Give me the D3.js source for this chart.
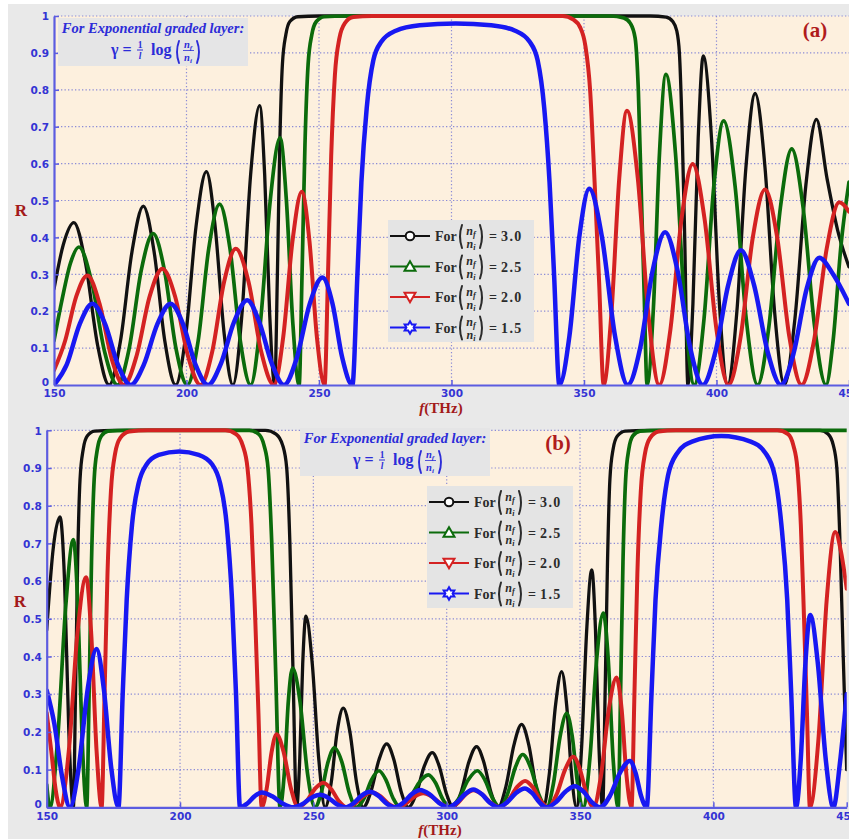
<!DOCTYPE html>
<html>
<head>
<meta charset="utf-8">
<script src="https://cdn.jsdelivr.net/npm/d3@7"></script>
<style>
  body { margin: 0; background: #ffffff; }
  svg { display: block; }
</style>
</head>
<body>
<svg id="chart" width="849" height="839"></svg>
<script>
// Reflectance R versus frequency f (THz) for four gradient ratios nf/ni.
const fTicks = [150, 200, 250, 300, 350, 400, 450];
const fTickLabels = ["150", "200", "250", "300", "350", "400", "450"];
const rTicks = [0, 0.1, 0.2, 0.3, 0.4, 0.5, 0.6, 0.7, 0.8, 0.9, 1];
const rTickLabels = ["0", "0.1", "0.2", "0.3", "0.4", "0.5", "0.6", "0.7", "0.8", "0.9", "1"];
const ratioLabels = ["3.0", "2.5", "2.0", "1.5"];

// Panel (a): [f, R]
const aBlack = [
  [150,0.26],[153.5,0.38],[157.5,0.44],[161.9,0.33],[166.4,0.11],[170.8,0],
  [175.1,0.12],[179.4,0.36],[183.7,0.485],[187.8,0.36],[191.8,0.12],[195.9,0],
  [199.8,0.14],[203.6,0.43],[207.5,0.578],[210.8,0.43],[214.2,0.14],[217.5,0],
  [220.9,0.19],[224.2,0.57],[227.6,0.757],[229.5,0.57],[231.4,0.19],[233.3,0],
  [234.3,0.3],[235.2,0.65],[236.2,0.87],[237.5,0.95],[239,0.985],[242,0.998],[250,1],[300,1],[375,1],
  [381,0.997],[383.5,0.985],[385,0.96],[386,0.9],[387,0.7],[388,0.4],[389.2,0],
  [391.1,0.22],[393.1,0.67],[395,0.892],[398.1,0.67],[401.1,0.22],[404.2,0],
  [407.7,0.2],[411.1,0.59],[414.6,0.79],[418.3,0.59],[421.9,0.2],[425.6,0],
  [429.6,0.18],[433.7,0.54],[437.7,0.72],[441.7,0.56],[445.7,0.42],[450,0.32]
];
const aGreen = [
  [150,0.12],[153,0.23],[156.2,0.33],[159.4,0.374],[164.2,0.28],[169.1,0.09],[173.9,0],
  [178.4,0.1],[182.9,0.31],[187.4,0.41],[191.7,0.31],[196,0.1],[200.3,0],
  [204.4,0.12],[208.4,0.37],[212.5,0.49],[216.4,0.37],[220.3,0.12],[224.2,0],
  [227.9,0.17],[231.6,0.5],[235.3,0.67],[237.7,0.5],[240.1,0.17],[242.5,0],
  [243.6,0.3],[244.7,0.65],[245.9,0.87],[247.3,0.95],[249,0.985],[252,0.998],[260,1],[310,1],[360,1],
  [365,0.995],[367.5,0.98],[369.3,0.94],[370.5,0.8],[371.7,0.5],[372.7,0.25],[373.8,0],
  [376.2,0.21],[378.5,0.63],[380.9,0.842],[384.5,0.63],[388,0.21],[391.6,0],
  [395.3,0.18],[399,0.54],[402.7,0.716],[407,0.54],[411.2,0.18],[415.5,0],
  [419.8,0.16],[424.1,0.48],[428.4,0.64],[432.7,0.48],[437,0.16],[441.3,0],
  [444,0.12],[447,0.38],[450,0.55]
];
const aRed = [
  [150,0.04],[154.2,0.12],[158.4,0.24],[162.6,0.297],[167.2,0.22],[171.8,0.07],[176.4,0],
  [181.2,0.08],[186.1,0.24],[190.9,0.315],[195.7,0.24],[200.5,0.08],[205.3,0],
  [209.7,0.09],[214.2,0.28],[218.6,0.369],[223.4,0.28],[228.2,0.09],[233,0],
  [236.5,0.13],[240,0.39],[243.5,0.524],[246.4,0.39],[249.2,0.13],[252.1,0],
  [253.4,0.3],[254.6,0.62],[256,0.84],[257.7,0.94],[259.7,0.98],[263,0.997],[270,1],[305,1],[342,1],
  [346,0.99],[348.5,0.97],[350.5,0.92],[352.3,0.8],[354,0.55],[355.7,0.28],[357.4,0],
  [360.3,0.19],[363.3,0.56],[366.2,0.743],[370.3,0.56],[374.3,0.19],[378.4,0],
  [382.6,0.15],[386.8,0.45],[391,0.599],[395.5,0.45],[400,0.15],[404.5,0],
  [409.1,0.13],[413.7,0.4],[418.3,0.53],[422.9,0.4],[427.5,0.13],[432.1,0],
  [436.8,0.12],[441.6,0.37],[446.3,0.495],[450,0.47]
];
const aBlue = [
  [150,0],[154.8,0.055],[159.7,0.165],[164.5,0.22],[169.3,0.165],[174.1,0.055],[178.9,0],
  [183.9,0.055],[189,0.165],[194,0.22],[198.7,0.165],[203.4,0.055],[208.1,0],
  [213,0.058],[217.9,0.17],[222.9,0.23],[227.5,0.17],[232.2,0.058],[236.8,0],
  [241.6,0.073],[246.5,0.22],[251.3,0.291],[255.1,0.22],[258.8,0.073],[262.6,0],
  [264.5,0.3],[266,0.55],[268,0.75],[270.5,0.88],[273.5,0.93],[279,0.96],[288,0.975],[301.6,0.98],
  [315,0.975],[324,0.96],[329.5,0.93],[332.5,0.88],[335,0.75],[337,0.55],[338.7,0.3],[340.7,0],
  [344.5,0.133],[348.2,0.4],[352,0.532],[356.8,0.4],[361.7,0.133],[366.5,0],
  [371.2,0.1],[375.9,0.31],[380.6,0.414],[385.3,0.31],[390.1,0.1],[394.8,0],
  [399.6,0.09],[404.4,0.27],[409.2,0.365],[414.2,0.27],[419.3,0.09],[424.3,0],
  [429.1,0.086],[434,0.26],[438.8,0.345],[444,0.3],[450,0.22]
];

// Panel (b): [f, R]
const bBlack = [
  [150,0.47],[152.5,0.69],[155,0.77],[156.7,0.6],[158.3,0.2],[160,0],
  [160.8,0.3],[161.6,0.65],[162.5,0.87],[163.7,0.95],[165.2,0.985],[168,0.998],[175,1],[205,1],[232,1],
  [236,0.99],[238.5,0.96],[240,0.9],[241.2,0.7],[242.4,0.35],[243.7,0],
  [244.9,0.13],[246,0.38],[247.2,0.507],[249.6,0.38],[252,0.13],[254.4,0],
  [256.7,0.066],[258.9,0.2],[261.2,0.263],[263.7,0.2],[266.2,0.066],[268.7,0],
  [271.6,0.042],[274.6,0.126],[277.5,0.168],[280.2,0.126],[282.9,0.042],[285.6,0],
  [288.6,0.036],[291.6,0.109],[294.6,0.145],[297.2,0.109],[299.9,0.036],[302.5,0],
  [305.4,0.04],[308.3,0.12],[311.2,0.161],[313.9,0.12],[316.6,0.04],[319.3,0],
  [322.2,0.055],[325.2,0.165],[328.1,0.22],[330.8,0.165],[333.5,0.055],[336.2,0],
  [338.5,0.09],[340.8,0.27],[343.1,0.36],[345,0.27],[346.8,0.09],[348.7,0],
  [350.6,0.16],[352.5,0.47],[354.4,0.63],[355.8,0.47],[357.1,0.16],[358.5,0],
  [359.4,0.3],[360.3,0.65],[361.2,0.87],[362.4,0.95],[364,0.985],[367,0.998],[375,1],[410,1],[440,1],
  [443,0.99],[445,0.96],[446.3,0.9],[447.5,0.7],[448.7,0.4],[450,0.1]
];
const bGreen = [
  [150,0.06],[151.2,0],[154.1,0.18],[157.1,0.53],[160,0.71],[161.7,0.53],[163.3,0.18],[165,0],
  [165.9,0.3],[166.8,0.65],[167.8,0.87],[169,0.95],[170.5,0.985],[173,0.998],[180,1],[205,1],[226,1],
  [229.5,0.99],[231.5,0.96],[233,0.9],[234.4,0.7],[235.9,0.35],[237.5,0],
  [239.1,0.09],[240.6,0.28],[242.2,0.369],[245,0.28],[247.8,0.09],[250.6,0],
  [253,0.04],[255.5,0.12],[257.9,0.158],[260.7,0.12],[263.4,0.04],[266.2,0],
  [269,0.024],[271.8,0.073],[274.6,0.097],[277.2,0.073],[279.9,0.024],[282.5,0],
  [286,0.022],[289.6,0.065],[293.1,0.086],[295.8,0.065],[298.5,0.022],[301.2,0],
  [304.6,0.024],[308.1,0.073],[311.5,0.097],[314.3,0.073],[317.2,0.024],[320,0],
  [322.8,0.035],[325.7,0.105],[328.5,0.14],[331.5,0.105],[334.5,0.035],[337.5,0],
  [340,0.062],[342.5,0.187],[345,0.249],[347.1,0.187],[349.1,0.062],[351.2,0],
  [353.7,0.13],[356.2,0.39],[358.7,0.515],[360.6,0.39],[362.4,0.13],[364.3,0],
  [365.2,0.3],[366.1,0.65],[367.1,0.87],[368.3,0.95],[369.8,0.985],[372.5,0.998],[380,1],[415,1],[450,1]
];
const bRed = [
  [150,0.25],[151.7,0.15],[153.3,0.05],[155,0],
  [158.3,0.15],[161.5,0.46],[164.8,0.61],[166.7,0.46],[168.7,0.15],[170.6,0],
  [171.7,0.3],[172.8,0.62],[174.1,0.84],[175.7,0.94],[177.6,0.98],[181,0.997],[188,1],[200,1],[217,1],
  [221,0.99],[223.5,0.96],[225.3,0.9],[226.8,0.75],[228.2,0.5],[229.4,0.25],[230.6,0],
  [232.5,0.05],[234.3,0.145],[236.2,0.194],[238.9,0.145],[241.6,0.05],[244.3,0],
  [247.4,0.016],[250.6,0.049],[253.7,0.065],[256.6,0.049],[259.6,0.016],[262.5,0],
  [265.6,0.01],[268.8,0.03],[271.9,0.04],[275,0.03],[278.1,0.01],[281.2,0],
  [284.5,0.009],[287.9,0.028],[291.2,0.037],[294.5,0.028],[297.9,0.009],[301.2,0],
  [304.1,0.011],[307.1,0.034],[310,0.045],[313.3,0.034],[316.7,0.011],[320,0],
  [323.1,0.018],[326.3,0.053],[329.4,0.07],[332.3,0.053],[335.2,0.018],[338.1,0],
  [341.2,0.034],[344.4,0.1],[347.5,0.134],[350,0.1],[352.5,0.034],[355,0],
  [357.9,0.086],[360.8,0.26],[363.7,0.344],[365.6,0.26],[367.4,0.086],[369.3,0],
  [370.4,0.3],[371.5,0.62],[372.8,0.84],[374.4,0.94],[376.3,0.98],[379.5,0.997],[386,1],[405,1],[424,1],
  [428,0.99],[430,0.96],[431.5,0.9],[432.8,0.75],[434,0.5],[435.1,0.25],[436.2,0],
  [439.4,0.18],[442.5,0.55],[445.7,0.73],[447.8,0.68],[450,0.58]
];
const bBlue = [
  [150,0.31],[152.9,0.22],[155.8,0.08],[158.7,0],
  [162,0.105],[165.4,0.315],[168.7,0.42],[171.4,0.315],[174.2,0.105],[176.9,0],
  [178.5,0.3],[180,0.55],[182,0.75],[184.5,0.86],[187.5,0.91],[192,0.935],[199.7,0.944],
  [207,0.935],[212,0.91],[215,0.86],[217.5,0.75],[219.5,0.55],[221,0.3],[222.5,0],
  [225.2,0.01],[227.9,0.029],[230.6,0.039],[234.6,0.029],[238.5,0.01],[242.5,0],
  [245.8,0.008],[249.2,0.025],[252.5,0.033],[255.6,0.025],[258.8,0.008],[261.9,0],
  [265,0.01],[268.1,0.031],[271.2,0.041],[274.3,0.031],[277.5,0.01],[280.6,0],
  [283.7,0.012],[286.9,0.035],[290,0.046],[293.5,0.035],[297.1,0.012],[300.6,0],
  [303.7,0.012],[306.9,0.035],[310,0.047],[313.1,0.035],[316.2,0.012],[319.3,0],
  [322.6,0.013],[326,0.038],[329.3,0.05],[332,0.038],[334.8,0.013],[337.5,0],
  [341,0.014],[344.6,0.042],[348.1,0.056],[351.2,0.042],[354.4,0.014],[357.5,0],
  [361.2,0.03],[365,0.092],[368.7,0.123],[370.8,0.092],[372.9,0.03],[375,0],
  [376.8,0.3],[378.3,0.55],[380.5,0.75],[383,0.88],[386.5,0.94],[392,0.97],[403,0.985],
  [414,0.97],[419.5,0.94],[423,0.88],[425.5,0.75],[427.7,0.55],[429.2,0.3],[431,0],
  [432.8,0.13],[434.5,0.38],[436.3,0.51],[439.2,0.38],[442.1,0.13],[445,0],
  [447.5,0.12],[450,0.3]
];

const seriesStyle = [
  { color: "#111111", width: 3.3, marker: "circle" },
  { color: "#0b6b0b", width: 3.7, marker: "triUp" },
  { color: "#d42222", width: 4.0, marker: "triDown" },
  { color: "#1818f2", width: 4.5, marker: "star" }
];

const svg = d3.select("#chart");
const defs = svg.append("defs");

// figure background
svg.append("rect").attr("x", 8).attr("y", 4).attr("width", 841).attr("height", 835)
  .attr("fill", "#e9e9e9");

const AXIS = "#5c5ce0", TICKTXT = "#3434d4", GRID = "#8b8bd6";
const NOTE = "#2c2cd8", DARKRED = "#a31a1a", LEGTXT = "#2b2b2b";
const SERIF = "'Liberation Serif', 'Times New Roman', serif";

function hexagram(r) {
  const pts = [];
  for (let k = 0; k < 12; k++) {
    const a = -Math.PI / 2 + k * Math.PI / 6;
    const rad = k % 2 === 0 ? r : r / Math.sqrt(3);
    pts.push([rad * Math.cos(a), rad * Math.sin(a)]);
  }
  return "M" + pts.map(p => p[0].toFixed(2) + "," + p[1].toFixed(2)).join("L") + "Z";
}

function drawMarker(g, kind, cx, cy, color) {
  if (kind === "circle") {
    g.append("circle").attr("cx", cx).attr("cy", cy).attr("r", 4.3)
      .attr("fill", "#ffffff").attr("stroke", color).attr("stroke-width", 2);
  } else if (kind === "triUp" || kind === "triDown") {
    g.append("path").attr("d", d3.symbol(d3.symbolTriangle, 52)())
      .attr("transform", `translate(${cx},${cy + (kind === "triUp" ? 1 : -1)}) rotate(${kind === "triUp" ? 0 : 180})`)
      .attr("fill", "#ffffff").attr("stroke", color).attr("stroke-width", 2);
  } else {
    g.append("path").attr("d", hexagram(6.2))
      .attr("transform", `translate(${cx},${cy})`)
      .attr("fill", "#ffffff").attr("stroke", color).attr("stroke-width", 2);
  }
}

// tall bracket drawn as a stroke; side = -1 for "(" and +1 for ")"
function bracket(g, x, yTop, yBot, side, color, w) {
  const bow = 4 * side;
  const p = d3.path();
  p.moveTo(x, yTop);
  p.quadraticCurveTo(x + bow, (yTop + yBot) / 2, x, yBot);
  g.append("path").attr("d", p.toString()).attr("fill", "none")
    .attr("stroke", color).attr("stroke-width", w).attr("stroke-linecap", "round");
}

// n_f over n_i stacked, centred on cx
function nRatio(g, cx, yNum, yDen, size, color) {
  [[yNum, "f"], [yDen, "i"]].forEach(([yy, sub]) => {
    const t = g.append("text").attr("x", cx).attr("y", yy).attr("text-anchor", "middle")
      .attr("font-family", SERIF).attr("font-weight", "bold").attr("font-style", "italic")
      .attr("font-size", size).attr("fill", color);
    t.append("tspan").text("n");
    t.append("tspan").attr("font-size", size * 0.68).attr("dy", size * 0.18).text(sub);
  });
}

function drawNote(g, bx, by) {
  g.append("rect").attr("x", bx).attr("y", by).attr("width", 190).attr("height", 48)
    .attr("fill", "#e5e5e6");
  g.append("text").attr("x", bx + 95).attr("y", by + 15).attr("text-anchor", "middle")
    .attr("font-family", SERIF).attr("font-weight", "bold").attr("font-style", "italic")
    .attr("font-size", 14.5).attr("fill", NOTE).text("For Exponential graded layer:");
  const base = by + 37;
  g.append("text").attr("x", bx + 53).attr("y", base)
    .attr("font-family", SERIF).attr("font-weight", "bold").attr("font-size", 16)
    .attr("fill", NOTE).text("γ =");
  // 1 / l
  g.append("text").attr("x", bx + 82).attr("y", base - 7).attr("text-anchor", "middle")
    .attr("font-family", SERIF).attr("font-weight", "bold").attr("font-size", 9.5)
    .attr("fill", NOTE).text("1");
  g.append("line").attr("x1", bx + 79).attr("x2", bx + 85).attr("y1", base - 5).attr("y2", base - 5)
    .attr("stroke", NOTE).attr("stroke-width", 1);
  g.append("text").attr("x", bx + 82).attr("y", base + 4).attr("text-anchor", "middle")
    .attr("font-family", SERIF).attr("font-weight", "bold").attr("font-style", "italic")
    .attr("font-size", 9.5).attr("fill", NOTE).text("l");
  g.append("text").attr("x", bx + 93).attr("y", base)
    .attr("font-family", SERIF).attr("font-weight", "bold").attr("font-size", 16)
    .attr("fill", NOTE).text("log");
  bracket(g, bx + 121, base - 14, base + 8, -1, NOTE, 1.9);
  nRatio(g, bx + 130, base - 7, base + 6, 10.5, NOTE);
  g.append("line").attr("x1", bx + 125).attr("x2", bx + 136).attr("y1", base - 4.5).attr("y2", base - 4.5)
    .attr("stroke", NOTE).attr("stroke-width", 0.8);
  bracket(g, bx + 139, base - 14, base + 8, 1, NOTE, 1.9);
}

function drawLegend(g, bx, by) {
  g.append("rect").attr("x", bx).attr("y", by).attr("width", 146).attr("height", 122)
    .attr("fill", "#e4e4e4");
  const rowY = [16, 46.5, 77, 107.5];
  seriesStyle.forEach((s, i) => {
    const cy = by + rowY[i];
    g.append("line").attr("x1", bx + 2).attr("x2", bx + 42).attr("y1", cy).attr("y2", cy)
      .attr("stroke", s.color).attr("stroke-width", 2);
    drawMarker(g, s.marker, bx + 22, cy, s.color);
    g.append("text").attr("x", bx + 47).attr("y", cy + 5)
      .attr("font-family", SERIF).attr("font-weight", "bold").attr("font-size", 14)
      .attr("fill", LEGTXT).text("For");
    bracket(g, bx + 74, cy - 11, cy + 12, -1, LEGTXT, 2);
    nRatio(g, bx + 83, cy - 1.5, cy + 11.5, 12, LEGTXT);
    bracket(g, bx + 92, cy - 11, cy + 12, 1, LEGTXT, 2);
    g.append("text").attr("x", bx + 101).attr("y", cy + 5)
      .attr("font-family", SERIF).attr("font-weight", "bold").attr("font-size", 14)
      .attr("fill", LEGTXT).text("=");
    g.append("text").attr("x", bx + 113).attr("y", cy + 5)
      .attr("font-family", SERIF).attr("font-weight", "bold").attr("font-size", 14)
      .attr("letter-spacing", 1.4).attr("fill", LEGTXT).text(ratioLabels[i]);
  });
}

function drawPanel(p) {
  const x = d3.scaleLinear().domain([fTicks[0], fTicks[fTicks.length - 1]]).range([p.left, p.right]);
  const y = d3.scaleLinear().domain([0, 1]).range([p.bottom, p.top]);
  const g = svg.append("g");

  g.append("rect").attr("x", p.left).attr("y", p.top)
    .attr("width", p.right - p.left).attr("height", p.bottom - p.top).attr("fill", "#fdf0de");

  // dotted grid
  g.append("g").selectAll("line").data(rTicks.filter(v => v > 0)).join("line")
    .attr("x1", p.left).attr("x2", p.right).attr("y1", d => y(d)).attr("y2", d => y(d))
    .attr("stroke", GRID).attr("stroke-width", 1.2).attr("stroke-dasharray", "1.3,2.2");
  g.append("g").selectAll("line").data(fTicks.slice(1, -1)).join("line")
    .attr("x1", d => x(d)).attr("x2", d => x(d)).attr("y1", p.top).attr("y2", p.bottom)
    .attr("stroke", GRID).attr("stroke-width", 1.2).attr("stroke-dasharray", "1.3,2.2");

  // curves
  const clipId = "clip-" + p.tag;
  defs.append("clipPath").attr("id", clipId).append("rect")
    .attr("x", p.left).attr("y", p.top - 3).attr("width", p.right - p.left).attr("height", p.bottom - p.top + 3);
  const line = d3.line().x(d => x(d[0])).y(d => y(d[1])).curve(d3.curveMonotoneX);
  const cg = g.append("g").attr("clip-path", `url(#${clipId})`);
  p.series.forEach((data, i) => {
    cg.append("path").datum(data).attr("d", line).attr("fill", "none")
      .attr("stroke", seriesStyle[i].color).attr("stroke-width", seriesStyle[i].width)
      .attr("stroke-linejoin", "round").attr("stroke-linecap", "round");
  });

  // axes
  const yAxis = d3.axisLeft(y).tickValues(rTicks).tickFormat((d, i) => rTickLabels[i])
    .tickSizeInner(-5).tickSizeOuter(0).tickPadding(5);
  const xAxis = d3.axisBottom(x).tickValues(fTicks).tickFormat((d, i) => fTickLabels[i])
    .tickSizeInner(-5).tickSizeOuter(0).tickPadding(5);
  const ya = g.append("g").attr("transform", `translate(${p.left},0)`).call(yAxis);
  const xa = g.append("g").attr("transform", `translate(0,${p.bottom})`).call(xAxis);
  [ya, xa].forEach(a => {
    a.select(".domain").attr("stroke", AXIS).attr("stroke-width", 2.2);
    a.selectAll(".tick line").attr("stroke", AXIS).attr("stroke-width", 1.5);
    a.selectAll(".tick text").attr("fill", TICKTXT).attr("font-family", "'DejaVu Sans', Verdana, sans-serif")
      .attr("font-weight", "bold").attr("font-size", 10.5);
  });
  ya.selectAll(".tick text").attr("dy", d => d === 0 ? "0.05em" : "0.36em");

  // axis titles
  g.append("text").attr("x", p.rX).attr("y", p.rY).attr("text-anchor", "middle")
    .attr("font-family", SERIF).attr("font-weight", "bold").attr("font-size", 17)
    .attr("fill", DARKRED).text("R");
  const xt = g.append("text").attr("x", p.fX).attr("y", p.fY).attr("text-anchor", "middle")
    .attr("font-family", SERIF).attr("font-weight", "bold").attr("font-size", 15).attr("fill", DARKRED);
  xt.append("tspan").attr("font-style", "italic").text("f");
  xt.append("tspan").text("(THz)");

  drawNote(g, p.noteX, p.noteY);
  drawLegend(g, p.legX, p.legY);

  g.append("text").attr("x", p.tagX).attr("y", p.tagY).attr("text-anchor", "middle")
    .attr("font-family", SERIF).attr("font-weight", "bold").attr("font-size", 21)
    .attr("fill", "#b01c1c").text(p.label);
}

drawPanel({
  tag: "a", label: "(a)", left: 54, right: 849, top: 16, bottom: 385,
  series: [aBlack, aGreen, aRed, aBlue],
  rX: 21, rY: 216, fX: 441, fY: 413,
  noteX: 58, noteY: 18, legX: 388, legY: 220, tagX: 815, tagY: 37
});
drawPanel({
  tag: "b", label: "(b)", left: 46.7, right: 846.7, top: 430.3, bottom: 807.3,
  series: [bBlack, bGreen, bRed, bBlue],
  rX: 20, rY: 607, fX: 440, fY: 835,
  noteX: 300, noteY: 428, legX: 427, legY: 486, tagX: 558, tagY: 450
});
</script>
</body>
</html>
